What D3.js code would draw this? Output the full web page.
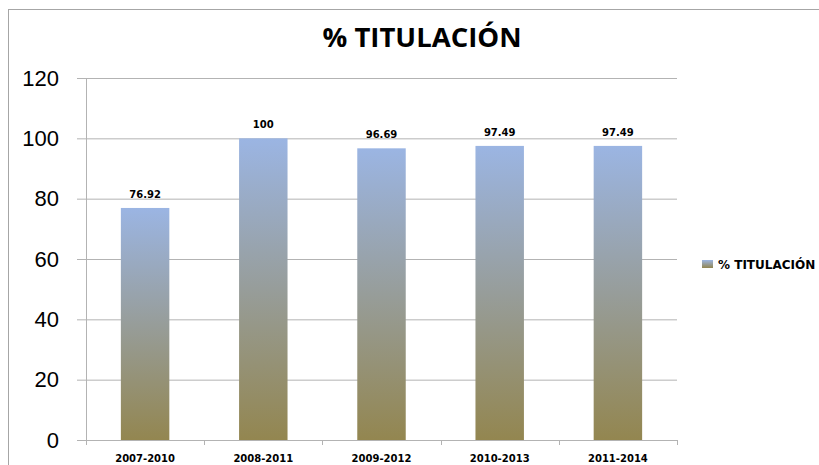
<!DOCTYPE html>
<html>
<head>
<meta charset="utf-8">
<script src="https://cdn.jsdelivr.net/npm/d3@7"></script>
<style>
  body { margin: 0; background: #fff; }
  svg { display: block; font-family: "Open Sans", "Liberation Sans", sans-serif; }
  .small { font-family: "DejaVu Sans", "Open Sans", sans-serif; }
</style>
</head>
<body>
<div id="chart"></div>
<script>
// data
let categories = ["2007-2010", "2008-2011", "2009-2012", "2010-2013", "2011-2014"];
let values = [76.92, 100, 96.69, 97.49, 97.49];
let yTicks = [0, 20, 40, 60, 80, 100, 120];
let seriesName = "% TITULACIÓN";

let width = 819;
let height = 465;
let margin = ({ top: 78, right: 142, bottom: 25, left: 86 });

let svg = d3.select("#chart")
    .append("svg")
    .attr("width", width)
    .attr("height", height);

// outer chart border (runs off the right / bottom edge)
svg.append("rect")
    .attr("x", 8.5)
    .attr("y", 9.5)
    .attr("width", 830)
    .attr("height", 480)
    .attr("fill", "none")
    .attr("stroke", "#a6a6a6");

let defs = svg.append("defs");
let grad = defs.append("linearGradient")
    .attr("id", "barGrad")
    .attr("x1", 0).attr("y1", 0)
    .attr("x2", 0).attr("y2", 1);
grad.append("stop").attr("offset", "0%").attr("stop-color", "#9bb5e3");
grad.append("stop").attr("offset", "50%").attr("stop-color", "#979d9a");
grad.append("stop").attr("offset", "100%").attr("stop-color", "#938650");

let x = d3.scaleBand()
    .domain(categories)
    .range([margin.left, width - margin.right])
    .paddingInner(0.59)
    .paddingOuter(0.295);

let y = d3.scaleLinear()
    .domain([0, 120])
    .range([height - margin.bottom, margin.top]);

// gridlines + y labels
let yAxis = g => g
    .attr("transform", `translate(${margin.left},0)`)
    .call(d3.axisLeft(y).tickValues(yTicks).tickSize(9).tickSizeOuter(0).tickPadding(18))
    .call(g => g.select(".domain").attr("stroke", "#b3b3b3"))
    .call(g => g.selectAll(".tick line").attr("stroke", "#b3b3b3"))
    .call(g => g.selectAll(".tick line").clone()
        .attr("x2", width - margin.right - margin.left)
        .attr("stroke", "#b3b3b3"))
    .call(g => g.selectAll(".tick text")
        .attr("font-size", 22)
        .attr("fill", "#000"));

svg.append("g").call(yAxis);

// bars
svg.append("g")
    .selectAll("rect")
    .data(values)
    .join("rect")
    .attr("x", (d, i) => x(categories[i]))
    .attr("y", d => y(d))
    .attr("width", x.bandwidth())
    .attr("height", d => y(0) - y(d))
    .attr("fill", "url(#barGrad)");

// x axis with boundary ticks
let step = x.step();
let bounds = d3.range(categories.length + 1).map(i => margin.left + i * step);
let xg = svg.append("g");
xg.append("line")
    .attr("x1", margin.left - 9).attr("x2", width - margin.right)
    .attr("y1", y(0) + 0.5).attr("y2", y(0) + 0.5)
    .attr("stroke", "#b3b3b3");
xg.selectAll("line.tk")
    .data(bounds)
    .join("line")
    .attr("class", "tk")
    .attr("x1", d => Math.round(d) + 0.5).attr("x2", d => Math.round(d) + 0.5)
    .attr("y1", y(0)).attr("y2", y(0) + 5)
    .attr("stroke", "#b3b3b3");
xg.selectAll("text")
    .data(categories)
    .join("text")
    .attr("class", "small")
    .attr("x", d => x(d) + x.bandwidth() / 2)
    .attr("y", 462)
    .attr("text-anchor", "middle")
    .attr("font-size", 10)
    .attr("font-weight", "bold")
    .text(d => d);

// value labels
svg.append("g")
    .selectAll("text")
    .data(values)
    .join("text")
    .attr("class", "small")
    .attr("x", (d, i) => x(categories[i]) + x.bandwidth() / 2)
    .attr("y", d => y(d) - 10)
    .attr("text-anchor", "middle")
    .attr("font-size", 10)
    .attr("font-weight", "bold")
    .text(d => d);

// title
svg.append("text")
    .attr("x", 422)
    .attr("y", 47)
    .attr("text-anchor", "middle")
    .attr("font-size", 27.5)
    .attr("font-weight", "bold")
    .text(seriesName);

// legend
let legend = svg.append("g").attr("transform", "translate(702,260)");
legend.append("rect")
    .attr("width", 11)
    .attr("height", 8)
    .attr("fill", "url(#barGrad)");
legend.append("text")
    .attr("class", "small")
    .attr("x", 16)
    .attr("y", 8.5)
    .attr("font-size", 12)
    .attr("font-weight", "bold")
    .text(seriesName);
</script>
</body>
</html>
